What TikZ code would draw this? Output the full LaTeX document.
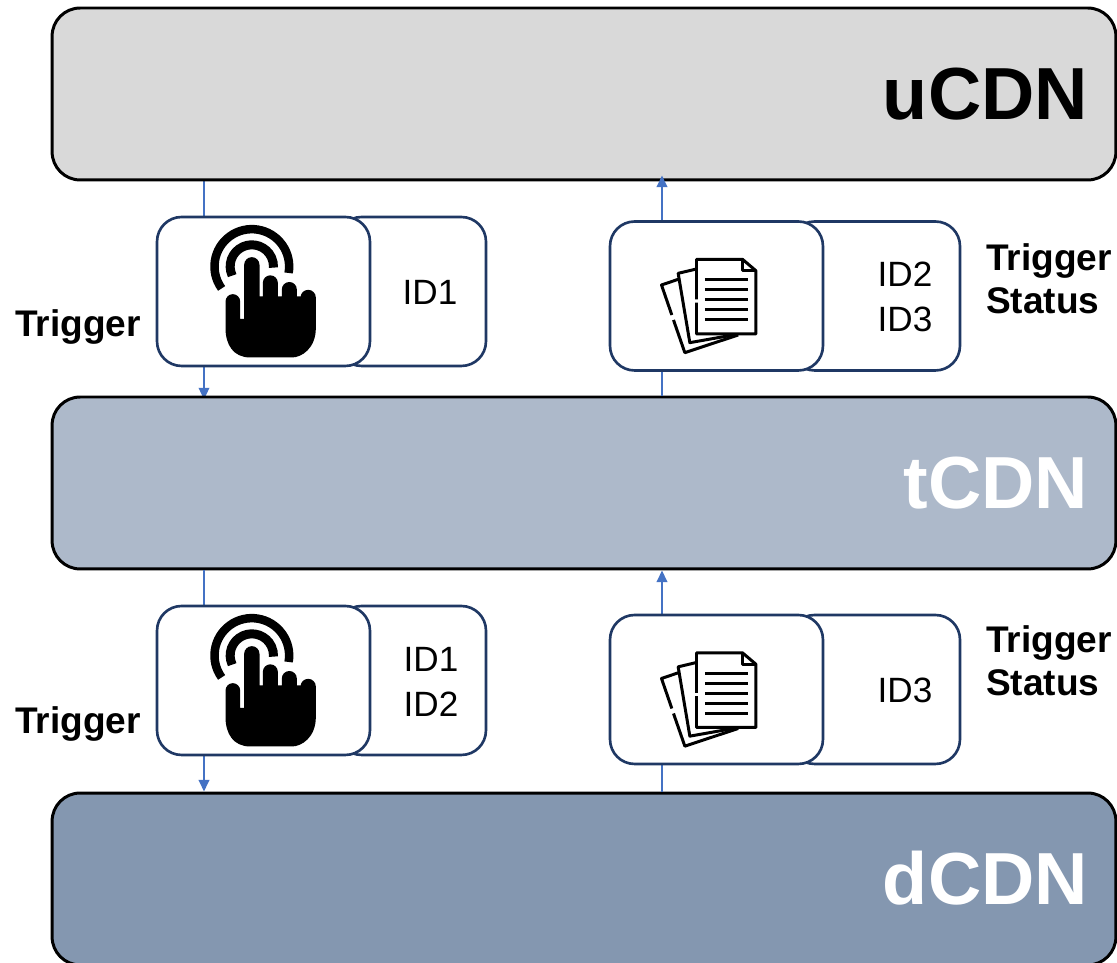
\documentclass[tikz,border=0pt]{standalone}
\usepackage{fontspec}
\setmainfont{Liberation Sans}
\usetikzlibrary{arrows.meta, positioning, backgrounds}
\definecolor{ugrey}{HTML}{D9D9D9}
\definecolor{tblue}{HTML}{ADB9CA}
\definecolor{dblue}{HTML}{8497B0}
\definecolor{navyline}{HTML}{1F3864}
\definecolor{flowblue}{HTML}{4472C4}

\begin{document}
\begin{tikzpicture}[
  x=0.02cm, y=0.02cm,
  flow/.style={draw=flowblue, line width=1.1pt, -{Triangle[length=6.6pt,width=6pt]}},
  layer/.style={draw=black, line width=1.7pt, rounded corners=16pt, minimum width=21.28cm,
                minimum height=3.44cm, text width=20.16cm, inner xsep=0.56cm, align=right,
                text height=29.6pt, text depth=0pt,
                font=\fontsize{42}{48}\selectfont\bfseries},
  frontbox/.style={draw=navyline, fill=white, line width=1.5pt, rounded corners=14pt,
                   minimum width=4.26cm, minimum height=2.98cm},
  idbox/.style={draw=navyline, fill=white, line width=1.5pt, rounded corners=14pt,
                minimum height=2.98cm},
  idtext/.style={font=\fontsize{20}{25.6}\selectfont, align=center},
  tag/.style={font=\fontsize{21.1}{24.5}\selectfont\bfseries, align=left},
  touch/.pic={
    \begin{scope}[scale=1/3]
      \fill (-114,-30) arc[start angle=180, end angle=0, radius=22] -- (-70,-82) -- (-58,-82)
        -- (-58,80) arc[start angle=180, end angle=0, radius=23] -- (-12,-15) -- (-2,-15)
        -- (-2,26) arc[start angle=180, end angle=0, radius=22.5] -- (43,-15) -- (55,-15)
        -- (55,6) arc[start angle=180, end angle=0, radius=22.5] -- (100,-15) -- (111,-15)
        -- (111,-18) arc[start angle=180, end angle=0, radius=23] -- (157,-110)
        .. controls (157,-170) and (115,-198) .. (85,-198) -- (-40,-198)
        .. controls (-90,-198) and (-114,-160) .. (-114,-110) -- cycle;
      \draw[line width=0.17cm] (-35,75) ++(216:112) arc[start angle=216, end angle=-10, radius=112];
      \draw[line width=0.18cm] (-35,75) ++(205:65) arc[start angle=205, end angle=-3, radius=65];
    \end{scope}
  },
  papers/.pic={
    \begin{scope}[scale=1/3, line width=1.7pt, line join=round]
      % top sheet
      \draw (-60,-10) -- (-60,110) -- (78,110) -- (118,76) -- (118,-114) -- (-60,-114) -- (-60,-20);
      \draw (78,110) -- (78,76) -- (118,76);
      \foreach \ly in {48,18,-12,-42,-72}
        \draw (-35,\ly) -- (95,\ly);
      % sheets behind
      \draw (-60,81) -- (-115,68) -- (-80,-140) -- (50,-117);
      \draw (-115,50) -- (-165,33) -- (-134,-57);
      \draw (-129,-72) -- (-95,-170) -- (65,-117);
    \end{scope}
  },
]
  \useasboundingbox (0,0) rectangle (1117,963);

  % CDN layers
  \node[layer, fill=ugrey] (ucdn) at (584,869) {uCDN};
  \node[layer, fill=tblue, text=white] (tcdn) at (584,480) {tCDN};
  \node[layer, fill=dblue, text=white] (dcdn) at (584,84) {dCDN};

  % Columns of the connectors
  \coordinate (trigcol) at (204,0);
  \coordinate (statcol) at (662,0);

  % Connectors
  \begin{scope}[on background layer]
    \draw[flow, shorten >=-2.2pt] (ucdn.south -| trigcol) -- (tcdn.north -| trigcol);
  \end{scope}
  \draw[flow, shorten >=-3.4pt] (tcdn.north -| statcol) -- (ucdn.south -| statcol);
  \draw[flow] (tcdn.south -| trigcol) -- (dcdn.north -| trigcol);
  \draw[flow] (dcdn.north -| statcol) -- (tcdn.south -| statcol);

  % Upper trigger message
  \node[idbox, minimum width=2.98cm] (idsA) at (411.5,671.5) {};
  \node[frontbox] (touchA) at (263.5,671.5) {};
  \pic at (touchA.center) {touch};
  \node[idtext] (idtextA) at (430,671) {ID1};
  \node[tag] (trigA) at (78,636) {Trigger};

  % Upper status message
  \node[idbox, minimum width=3.4cm] (idsB) at (875,667) {};
  \node[frontbox] (paperB) at (716.5,667) {};
  \pic at (paperB.center) {papers};
  \node[idtext] (idtextB) at (905,666.5) {ID2\\ID3};
  \node[tag] (statB) at (1049,684) {Trigger\\Status};

  % Lower trigger message
  \node[idbox, minimum width=2.98cm] (idsC) at (411.5,282.5) {};
  \node[frontbox] (touchC) at (263.5,282.5) {};
  \pic at (touchC.center) {touch};
  \node[idtext] (idtextC) at (431,281) {ID1\\ID2};
  \node[tag] (trigC) at (78,239) {Trigger};

  % Lower status message
  \node[idbox, minimum width=3.4cm] (idsD) at (875,273.5) {};
  \node[frontbox] (paperD) at (716.5,273.5) {};
  \pic at (paperD.center) {papers};
  \node[idtext] (idtextD) at (905,273) {ID3};
  \node[tag] (statD) at (1049,302) {Trigger\\Status};
\end{tikzpicture}
\end{document}
